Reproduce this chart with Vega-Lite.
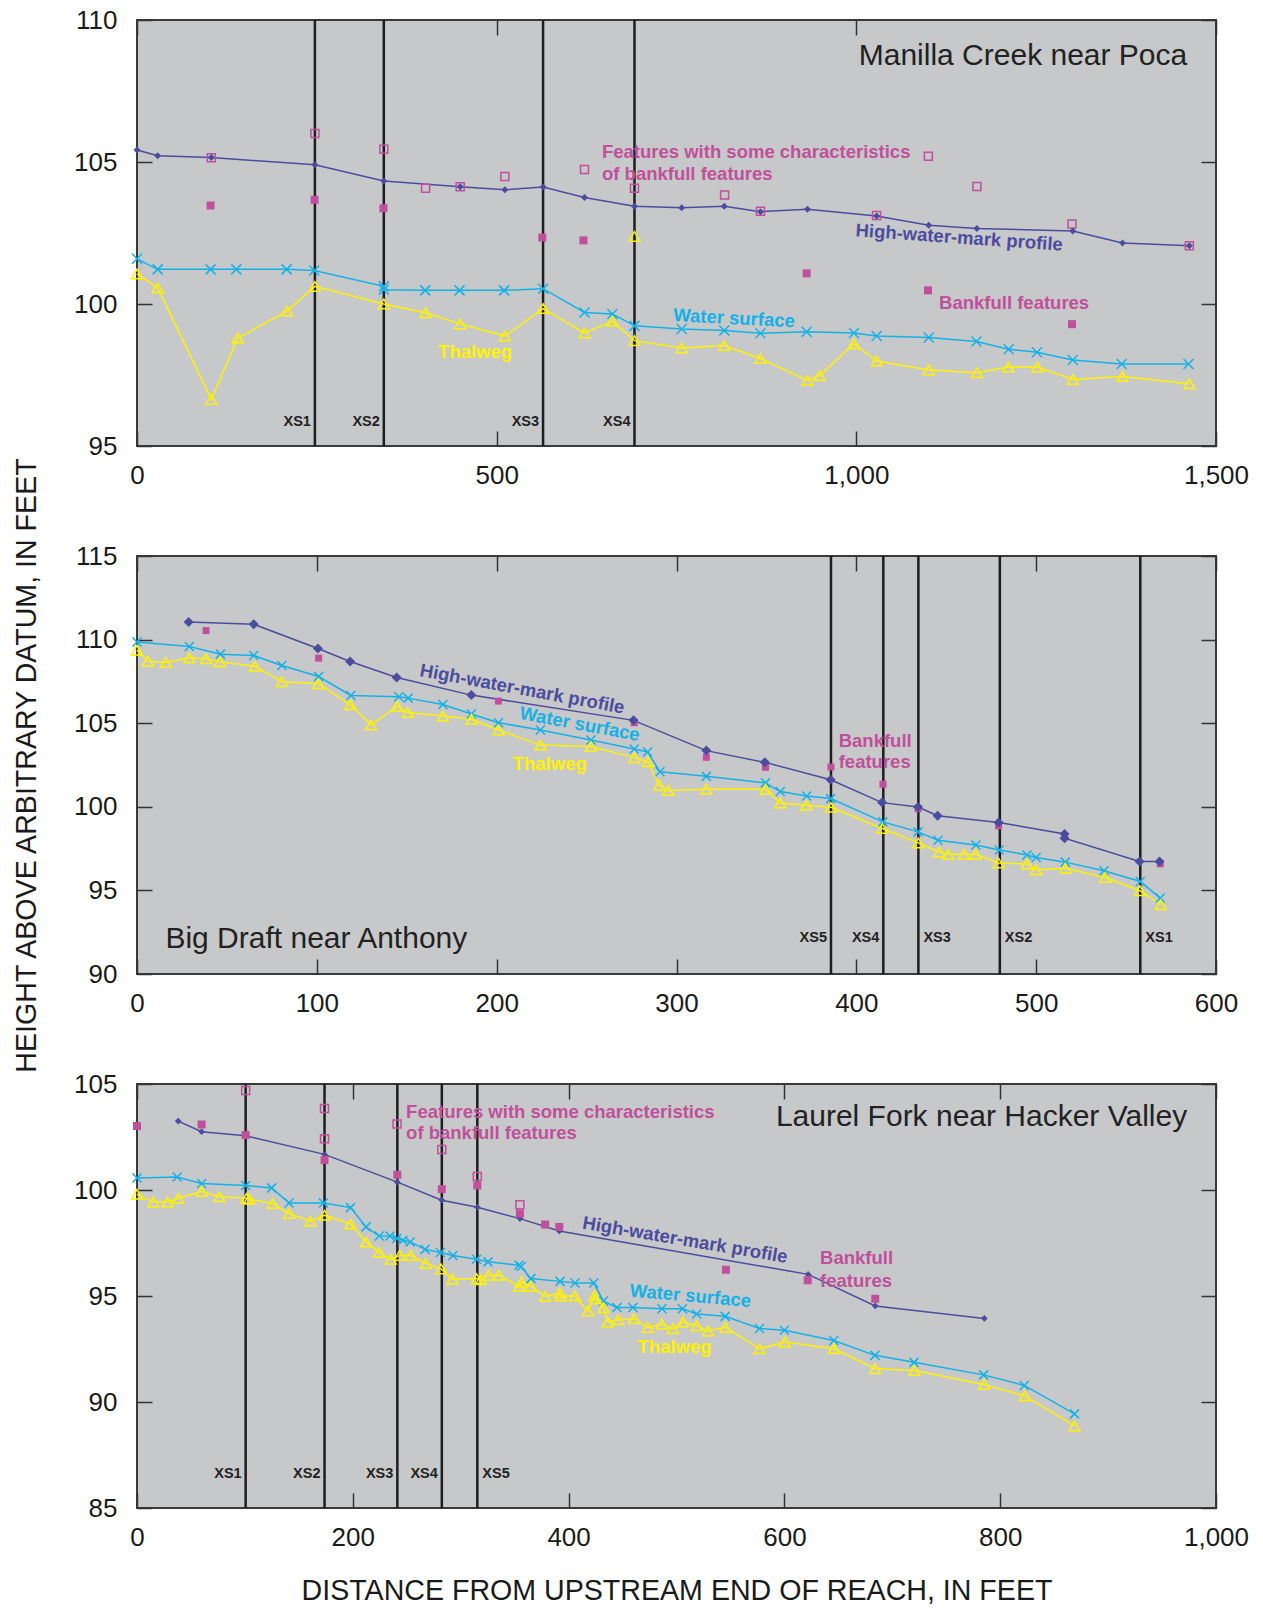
{
"$schema":"https://vega.github.io/schema/vega-lite/v6.json",
"padding":{"left":11,"top":6,"right":5,"bottom":2},
"background":"white",
"bounds":"flush",
"spacing":110,
"config":{
 "view":{"fill":"#C7C8CA","stroke":"#3A3A3A","strokeWidth":2},
 "axis":{"domain":false,"grid":false,"tickColor":"#333333","tickWidth":1.5,"tickSize":-15,"labelFont":"Liberation Sans, Arial, sans-serif","labelFontSize":26,"labelColor":"#1A1A1A","labelOverlap":false,"labelFlush":false,"titleFont":"Liberation Sans, Arial, sans-serif","titleFontSize":28.6,"titleFontWeight":"normal","titleColor":"#1A1A1A"}
},
"datasets":{
 "d1":[
{"s":"h","x":0,"y":105.42},{"s":"h","x":28.8,"y":105.22},{"s":"h","x":103.3,"y":105.16},{"s":"h","x":247.3,"y":104.9},{"s":"h","x":343.1,"y":104.33},{"s":"h","x":449.3,"y":104.13},{"s":"h","x":511.4,"y":104.02},{"s":"h","x":564.5,"y":104.12},{"s":"h","x":622.1,"y":103.75},{"s":"h","x":691.6,"y":103.44},{"s":"h","x":757.2,"y":103.39},{"s":"h","x":816.4,"y":103.44},{"s":"h","x":866.7,"y":103.25},{"s":"h","x":932,"y":103.34},{"s":"h","x":1028.2,"y":103.1},{"s":"h","x":1100.7,"y":102.77},{"s":"h","x":1167.6,"y":102.66},{"s":"h","x":1300.9,"y":102.57},{"s":"h","x":1370,"y":102.15},{"s":"h","x":1463,"y":102.05},
{"s":"w","x":0,"y":101.59},{"s":"w","x":28.8,"y":101.22},{"s":"w","x":102.3,"y":101.22},{"s":"w","x":138,"y":101.22},{"s":"w","x":208,"y":101.22},{"s":"w","x":246.3,"y":101.18},{"s":"w","x":343.1,"y":100.62},{"s":"w","x":343.1,"y":100.5},{"s":"w","x":400.7,"y":100.48},{"s":"w","x":448.4,"y":100.48},{"s":"w","x":510.4,"y":100.48},{"s":"w","x":564.5,"y":100.54},{"s":"w","x":622.1,"y":99.7},{"s":"w","x":660.8,"y":99.65},{"s":"w","x":691.6,"y":99.23},{"s":"w","x":757.2,"y":99.12},{"s":"w","x":816.4,"y":99.07},{"s":"w","x":866.7,"y":98.97},{"s":"w","x":930.9,"y":99.02},{"s":"w","x":996.7,"y":98.98},{"s":"w","x":1028.2,"y":98.87},{"s":"w","x":1100.7,"y":98.82},{"s":"w","x":1167,"y":98.68},{"s":"w","x":1211.8,"y":98.41},{"s":"w","x":1251.1,"y":98.3},{"s":"w","x":1300.9,"y":98.03},{"s":"w","x":1368.9,"y":97.89},{"s":"w","x":1461.8,"y":97.89},
{"s":"t","x":0,"y":101.06},{"s":"t","x":28.8,"y":100.57},{"s":"t","x":103.3,"y":96.64},{"s":"t","x":140,"y":98.8},{"s":"t","x":208.5,"y":99.75},{"s":"t","x":247.3,"y":100.62},{"s":"t","x":343.1,"y":100.0},{"s":"t","x":401.2,"y":99.69},{"s":"t","x":449.3,"y":99.3},{"s":"t","x":511.4,"y":98.87},{"s":"t","x":564.5,"y":99.84},{"s":"t","x":622.1,"y":98.98},{"s":"t","x":660.8,"y":99.39},{"s":"t","x":691.6,"y":98.71},{"s":"t","x":757.2,"y":98.45},{"s":"t","x":816.4,"y":98.54},{"s":"t","x":866.7,"y":98.08},{"s":"t","x":932,"y":97.31},{"s":"t","x":949.1,"y":97.48},{"s":"t","x":996.7,"y":98.6},{"s":"t","x":1028.2,"y":97.99},{"s":"t","x":1100.7,"y":97.68},{"s":"t","x":1167.6,"y":97.58},{"s":"t","x":1211.3,"y":97.78},{"s":"t","x":1251.7,"y":97.78},{"s":"t","x":1300.9,"y":97.34},{"s":"t","x":1370,"y":97.45},{"s":"t","x":1463,"y":97.19},
{"s":"tp","x":691.6,"y":102.38},
{"s":"b","x":102.3,"y":103.47},{"s":"b","x":246.8,"y":103.67},{"s":"b","x":342.6,"y":103.37},{"s":"b","x":563.5,"y":102.34},{"s":"b","x":620.6,"y":102.24},{"s":"b","x":930.9,"y":101.08},{"s":"b","x":1099.6,"y":100.48},{"s":"b","x":1299.8,"y":99.29},
{"s":"f","x":247.3,"y":106.0},{"s":"f","x":343.1,"y":105.45},{"s":"f","x":103.3,"y":105.15},{"s":"f","x":401.2,"y":104.08},{"s":"f","x":449.3,"y":104.13},{"s":"f","x":511.4,"y":104.49},{"s":"f","x":622.1,"y":104.74},{"s":"f","x":691.6,"y":104.08},{"s":"f","x":816.9,"y":103.84},{"s":"f","x":866.7,"y":103.27},{"s":"f","x":1028.2,"y":103.12},{"s":"f","x":1100.1,"y":105.2},{"s":"f","x":1167.6,"y":104.14},{"s":"f","x":1299.8,"y":102.82},{"s":"f","x":1463,"y":102.05}
 ],
 "d2":[
{"s":"h","x":28.7,"y":111.06},{"s":"h","x":64.9,"y":110.92},{"s":"h","x":100.6,"y":109.47},{"s":"h","x":118.5,"y":108.69},{"s":"h","x":144.4,"y":107.73},{"s":"h","x":185.9,"y":106.68},{"s":"h","x":276.1,"y":105.17},{"s":"h","x":316.6,"y":103.36},{"s":"h","x":349.1,"y":102.66},{"s":"h","x":385.7,"y":101.62},{"s":"h","x":414.3,"y":100.25},{"s":"h","x":434.3,"y":99.99},{"s":"h","x":445.2,"y":99.47},{"s":"h","x":479.1,"y":99.06},{"s":"h","x":515.8,"y":98.38},{"s":"h","x":515.8,"y":98.12},{"s":"h","x":557.5,"y":96.73},{"s":"h","x":568.6,"y":96.73},
{"s":"w","x":0,"y":109.86},{"s":"w","x":29.1,"y":109.59},{"s":"w","x":46.4,"y":109.13},{"s":"w","x":64.9,"y":109.05},{"s":"w","x":80.5,"y":108.45},{"s":"w","x":101,"y":107.79},{"s":"w","x":118.9,"y":106.66},{"s":"w","x":145.6,"y":106.58},{"s":"w","x":150.8,"y":106.5},{"s":"w","x":170.1,"y":106.12},{"s":"w","x":185.9,"y":105.55},{"s":"w","x":201,"y":105.03},{"s":"w","x":224.3,"y":104.59},{"s":"w","x":252.4,"y":104.0},{"s":"w","x":276.5,"y":103.46},{"s":"w","x":283.9,"y":103.28},{"s":"w","x":290.8,"y":102.1},{"s":"w","x":316.6,"y":101.82},{"s":"w","x":349.5,"y":101.43},{"s":"w","x":357.7,"y":100.91},{"s":"w","x":372.4,"y":100.65},{"s":"w","x":385.7,"y":100.49},{"s":"w","x":414.8,"y":99.1},{"s":"w","x":434.3,"y":98.5},{"s":"w","x":445.4,"y":98.0},{"s":"w","x":466.5,"y":97.72},{"s":"w","x":479.4,"y":97.42},{"s":"w","x":494.9,"y":97.12},{"s":"w","x":500,"y":96.97},{"s":"w","x":516.2,"y":96.69},{"s":"w","x":537.7,"y":96.17},{"s":"w","x":557.9,"y":95.53},{"s":"w","x":569,"y":94.54},
{"s":"t","x":0,"y":109.37},{"s":"t","x":6,"y":108.71},{"s":"t","x":16.1,"y":108.63},{"s":"t","x":29.1,"y":108.91},{"s":"t","x":38.4,"y":108.85},{"s":"t","x":46,"y":108.67},{"s":"t","x":65.5,"y":108.41},{"s":"t","x":80.5,"y":107.48},{"s":"t","x":100.8,"y":107.36},{"s":"t","x":118.7,"y":106.1},{"s":"t","x":130.1,"y":104.89},{"s":"t","x":144.8,"y":106.02},{"s":"t","x":150.6,"y":105.64},{"s":"t","x":170.1,"y":105.43},{"s":"t","x":186,"y":105.23},{"s":"t","x":201,"y":104.59},{"s":"t","x":224.3,"y":103.69},{"s":"t","x":252.4,"y":103.61},{"s":"t","x":276.5,"y":102.94},{"s":"t","x":284.1,"y":102.7},{"s":"t","x":290.4,"y":101.29},{"s":"t","x":295.4,"y":100.97},{"s":"t","x":316.6,"y":101.05},{"s":"t","x":349.5,"y":101.05},{"s":"t","x":357.7,"y":100.23},{"s":"t","x":372.1,"y":100.09},{"s":"t","x":385.9,"y":99.97},{"s":"t","x":414.5,"y":98.7},{"s":"t","x":434.5,"y":97.84},{"s":"t","x":446.1,"y":97.3},{"s":"t","x":451.2,"y":97.16},{"s":"t","x":459.8,"y":97.16},{"s":"t","x":466.3,"y":97.16},{"s":"t","x":479.1,"y":96.64},{"s":"t","x":494.9,"y":96.58},{"s":"t","x":500,"y":96.23},{"s":"t","x":516.2,"y":96.33},{"s":"t","x":538.4,"y":95.77},{"s":"t","x":557.7,"y":94.98},{"s":"t","x":569.3,"y":94.14},
{"s":"b","x":38.4,"y":110.54},{"s":"b","x":101,"y":108.89},{"s":"b","x":201,"y":106.32},{"s":"b","x":276.5,"y":105.03},{"s":"b","x":316.6,"y":102.96},{"s":"b","x":349.5,"y":102.36},{"s":"b","x":385.9,"y":102.38},{"s":"b","x":414.8,"y":101.35},{"s":"b","x":434.3,"y":99.89},{"s":"b","x":479.1,"y":98.86},{"s":"b","x":569,"y":96.59}
 ],
 "d3":[
{"s":"h","x":38.2,"y":103.25},{"s":"h","x":59.9,"y":102.75},{"s":"h","x":100.7,"y":102.56},{"s":"h","x":173.8,"y":101.68},{"s":"h","x":241.3,"y":100.37},{"s":"h","x":282.5,"y":99.52},{"s":"h","x":315.4,"y":99.19},{"s":"h","x":354.9,"y":98.65},{"s":"h","x":391.4,"y":98.07},{"s":"h","x":622,"y":96.02},{"s":"h","x":684.2,"y":94.53},{"s":"h","x":785.3,"y":93.94},
{"s":"w","x":0,"y":100.57},{"s":"w","x":37.2,"y":100.61},{"s":"w","x":59.9,"y":100.31},{"s":"w","x":100.7,"y":100.21},{"s":"w","x":124.8,"y":100.1},{"s":"w","x":140.9,"y":99.39},{"s":"w","x":172.8,"y":99.39},{"s":"w","x":197.9,"y":99.17},{"s":"w","x":212.3,"y":98.26},{"s":"w","x":224.5,"y":97.83},{"s":"w","x":234.4,"y":97.83},{"s":"w","x":240.7,"y":97.71},{"s":"w","x":246.3,"y":97.63},{"s":"w","x":253.2,"y":97.55},{"s":"w","x":267,"y":97.2},{"s":"w","x":281.2,"y":97.05},{"s":"w","x":292.7,"y":96.91},{"s":"w","x":314.7,"y":96.73},{"s":"w","x":325.3,"y":96.61},{"s":"w","x":353.9,"y":96.45},{"s":"w","x":356,"y":96.39},{"s":"w","x":365.1,"y":95.82},{"s":"w","x":392.1,"y":95.69},{"s":"w","x":405.9,"y":95.61},{"s":"w","x":423.4,"y":95.61},{"s":"w","x":432.3,"y":94.76},{"s":"w","x":444.8,"y":94.46},{"s":"w","x":459.6,"y":94.46},{"s":"w","x":486.5,"y":94.4},{"s":"w","x":505.5,"y":94.4},{"s":"w","x":518.7,"y":94.15},{"s":"w","x":545.1,"y":94.04},{"s":"w","x":576.9,"y":93.47},{"s":"w","x":600,"y":93.38},{"s":"w","x":645.8,"y":92.9},{"s":"w","x":683.9,"y":92.2},{"s":"w","x":720.1,"y":91.87},{"s":"w","x":784.6,"y":91.28},{"s":"w","x":822.3,"y":90.78},{"s":"w","x":868.9,"y":89.44},
{"s":"t","x":0,"y":99.8},{"s":"t","x":15.1,"y":99.43},{"s":"t","x":28.3,"y":99.43},{"s":"t","x":38.2,"y":99.61},{"s":"t","x":59.9,"y":99.93},{"s":"t","x":76.4,"y":99.68},{"s":"t","x":101.4,"y":99.61},{"s":"t","x":104,"y":99.57},{"s":"t","x":125.8,"y":99.36},{"s":"t","x":140.9,"y":98.89},{"s":"t","x":160.7,"y":98.53},{"s":"t","x":173.8,"y":98.81},{"s":"t","x":197.9,"y":98.4},{"s":"t","x":212.3,"y":97.55},{"s":"t","x":224.5,"y":97.05},{"s":"t","x":235.1,"y":96.73},{"s":"t","x":243.3,"y":96.91},{"s":"t","x":253.8,"y":96.91},{"s":"t","x":267.7,"y":96.53},{"s":"t","x":281.8,"y":96.28},{"s":"t","x":292.3,"y":95.79},{"s":"t","x":314.7,"y":95.82},{"s":"t","x":318.7,"y":95.77},{"s":"t","x":325.6,"y":95.98},{"s":"t","x":335.2,"y":95.98},{"s":"t","x":353.9,"y":95.46},{"s":"t","x":356.5,"y":95.66},{"s":"t","x":364.8,"y":95.46},{"s":"t","x":378.3,"y":94.98},{"s":"t","x":391.8,"y":95.14},{"s":"t","x":392.8,"y":95.0},{"s":"t","x":405.9,"y":95.0},{"s":"t","x":417.8,"y":94.29},{"s":"t","x":424,"y":95.02},{"s":"t","x":425,"y":94.86},{"s":"t","x":432.3,"y":94.45},{"s":"t","x":436.3,"y":93.77},{"s":"t","x":446.1,"y":93.88},{"s":"t","x":460.6,"y":93.93},{"s":"t","x":473.4,"y":93.52},{"s":"t","x":486.4,"y":93.67},{"s":"t","x":496.6,"y":93.45},{"s":"t","x":505.9,"y":93.77},{"s":"t","x":518.7,"y":93.6},{"s":"t","x":529.3,"y":93.35},{"s":"t","x":545.4,"y":93.52},{"s":"t","x":576.9,"y":92.51},{"s":"t","x":600.4,"y":92.83},{"s":"t","x":645.8,"y":92.51},{"s":"t","x":684.2,"y":91.57},{"s":"t","x":720.5,"y":91.49},{"s":"t","x":785,"y":90.83},{"s":"t","x":822.7,"y":90.29},{"s":"t","x":868.9,"y":88.87},
{"s":"b","x":0,"y":103.02},{"s":"b","x":59.9,"y":103.09},{"s":"b","x":100.7,"y":102.59},{"s":"b","x":173.8,"y":101.41},{"s":"b","x":241.3,"y":100.72},{"s":"b","x":282.5,"y":100.04},{"s":"b","x":315.4,"y":100.21},{"s":"b","x":354.9,"y":98.89},{"s":"b","x":378.3,"y":98.37},{"s":"b","x":391.4,"y":98.26},{"s":"b","x":545.8,"y":96.24},{"s":"b","x":621.6,"y":95.74},{"s":"b","x":684.2,"y":94.87},
{"s":"f","x":100.7,"y":104.69},{"s":"f","x":173.8,"y":103.85},{"s":"f","x":173.8,"y":102.42},{"s":"f","x":241,"y":103.11},{"s":"f","x":282.5,"y":101.91},{"s":"f","x":315.4,"y":100.64},{"s":"f","x":354.9,"y":99.3}
 ],
 "x1":[{"x":247.3,"l":"XS1","a":"r"},{"x":343.1,"l":"XS2","a":"r"},{"x":564.5,"l":"XS3","a":"r"},{"x":691.6,"l":"XS4","a":"r"}],
 "x2":[{"x":385.9,"l":"XS5","a":"r"},{"x":415,"l":"XS4","a":"r"},{"x":434.5,"l":"XS3","a":"l"},{"x":479.8,"l":"XS2","a":"l"},{"x":557.9,"l":"XS1","a":"l"}],
 "x3":[{"x":100.7,"l":"XS1","a":"r"},{"x":173.8,"l":"XS2","a":"r"},{"x":241.3,"l":"XS3","a":"r"},{"x":282.5,"l":"XS4","a":"r"},{"x":315.4,"l":"XS5","a":"l"}],
 "a1":[
  {"s":"f","text":"Features with some characteristics","x":646.4,"y":105.34,"ang":0,"al":"l"},
  {"s":"f","text":"of bankfull features","x":646.4,"y":104.58,"ang":0,"al":"l"},
  {"s":"h","text":"High-water-mark profile","x":1143,"y":102.34,"ang":4,"al":"c"},
  {"s":"b","text":"Bankfull features","x":1115,"y":100.03,"ang":0,"al":"l"},
  {"s":"w","text":"Water surface","x":830,"y":99.5,"ang":3,"al":"c"},
  {"s":"t","text":"Thalweg","x":470,"y":98.3,"ang":0,"al":"c"}
 ],
 "a2":[
  {"s":"h","text":"High-water-mark profile","x":214.2,"y":107.05,"ang":10.5,"al":"c"},
  {"s":"w","text":"Water surface","x":246.2,"y":104.95,"ang":10.5,"al":"c"},
  {"s":"t","text":"Thalweg","x":229.5,"y":102.55,"ang":0,"al":"c"},
  {"s":"b","text":"Bankfull","x":390.2,"y":103.91,"ang":0,"al":"l"},
  {"s":"b","text":"features","x":390.2,"y":102.67,"ang":0,"al":"l"}
 ],
 "a3":[
  {"s":"f","text":"Features with some characteristics","x":249.4,"y":103.69,"ang":0,"al":"l"},
  {"s":"f","text":"of bankfull features","x":249.4,"y":102.69,"ang":0,"al":"l"},
  {"s":"h","text":"High-water-mark profile","x":508,"y":97.65,"ang":9.6,"al":"c"},
  {"s":"w","text":"Water surface","x":512.8,"y":95.01,"ang":5,"al":"c"},
  {"s":"t","text":"Thalweg","x":498.2,"y":92.58,"ang":0,"al":"c"},
  {"s":"b","text":"Bankfull","x":633.1,"y":96.77,"ang":0,"al":"l"},
  {"s":"b","text":"features","x":633.1,"y":95.72,"ang":0,"al":"l"}
 ]
},
"vconcat":[
{
 "width":1079,"height":426,
 "resolve":{"axis":{"x":"independent","y":"independent"}},
 "layer":[
  {"data":{"name":"x1"},"mark":{"type":"rule","color":"#1E1E1E","strokeWidth":2.5},
   "encoding":{"x":{"field":"x","type":"quantitative","scale":{"domain":[0,1500],"nice":false,"zero":false},"axis":{"orient":"bottom","values":[0,500,1000,1500],"format":",d","labelPadding":31,"title":null}}}},
  {"data":{"name":"x1"},"transform":[{"filter":{"field":"a","equal":"r"}}],
   "mark":{"type":"text","align":"right","baseline":"middle","dx":-4,"font":"Liberation Sans, Arial, sans-serif","fontWeight":"bold","fontSize":14.5,"color":"#222222"},
   "encoding":{"x":{"field":"x","type":"quantitative","axis":null},"y":{"datum":95.84,"type":"quantitative","axis":null},"text":{"field":"l"}}},
  {"data":{"name":"d1"},"transform":[{"filter":{"field":"s","oneOf":["h","w","t"]}}],
   "mark":{"type":"line","strokeWidth":1.5},
   "encoding":{"x":{"field":"x","type":"quantitative","axis":{"orient":"top","values":[0,500,1000,1500],"labels":false,"title":null}},
    "y":{"field":"y","type":"quantitative","scale":{"domain":[95,110],"nice":false,"zero":false},"axis":{"orient":"left","values":[95,100,105,110],"labelPadding":35,"title":null}},
    "color":{"field":"s","type":"nominal","scale":{"domain":["h","w","t","b","f"],"range":["#4B4C9E","#14B1E7","#FFF200","#C0509B","#C0509B"]},"legend":null}}},
  {"data":{"name":"d1"},"transform":[{"filter":{"field":"s","equal":"f"}}],
   "mark":{"type":"point","shape":"square","filled":false,"size":64,"color":"#C0509B","strokeWidth":1.5,"opacity":1},
   "encoding":{"x":{"field":"x","type":"quantitative","axis":null},"y":{"field":"y","type":"quantitative","axis":{"orient":"right","values":[95,100,105,110],"labels":false,"title":null}}}},
  {"data":{"name":"d1"},"transform":[{"filter":{"field":"s","equal":"w"}}],
   "mark":{"type":"point","shape":"M-1,-1L1,1M-1,1L1,-1","filled":false,"size":100,"color":"#14B1E7","strokeWidth":1.5,"opacity":1},
   "encoding":{"x":{"field":"x","type":"quantitative","axis":null},"y":{"field":"y","type":"quantitative","axis":null}}},
  {"data":{"name":"d1"},"transform":[{"filter":{"field":"s","oneOf":["t","tp"]}}],
   "mark":{"type":"point","shape":"triangle-up","filled":false,"size":121,"color":"#FFF200","strokeWidth":1.5,"opacity":1},
   "encoding":{"x":{"field":"x","type":"quantitative","axis":null},"y":{"field":"y","type":"quantitative","axis":null}}},
  {"data":{"name":"d1"},"transform":[{"filter":{"field":"s","equal":"h"}}],
   "mark":{"type":"point","shape":"diamond","filled":true,"size":49,"color":"#4B4C9E","opacity":1},
   "encoding":{"x":{"field":"x","type":"quantitative","axis":null},"y":{"field":"y","type":"quantitative","axis":null}}},
  {"data":{"name":"d1"},"transform":[{"filter":{"field":"s","equal":"b"}}],
   "mark":{"type":"point","shape":"square","filled":true,"size":64,"color":"#C0509B","opacity":1},
   "encoding":{"x":{"field":"x","type":"quantitative","axis":null},"y":{"field":"y","type":"quantitative","axis":null}}},
  {"data":{"name":"a1"},"transform":[{"filter":{"field":"al","equal":"l"}}],
   "mark":{"type":"text","align":"left","baseline":"middle","font":"Liberation Sans, Arial, sans-serif","fontWeight":"bold","fontSize":18.5},
   "encoding":{"x":{"field":"x","type":"quantitative","axis":null},"y":{"field":"y","type":"quantitative","axis":null},"text":{"field":"text"},
    "color":{"field":"s","type":"nominal","scale":{"domain":["h","w","t","b","f"],"range":["#4B4C9E","#14B1E7","#FFF200","#C0509B","#C0509B"]},"legend":null},
    "angle":{"field":"ang","type":"quantitative","scale":null}}},
  {"data":{"name":"a1"},"transform":[{"filter":{"field":"al","equal":"c"}}],
   "mark":{"type":"text","align":"center","baseline":"middle","font":"Liberation Sans, Arial, sans-serif","fontWeight":"bold","fontSize":18.5},
   "encoding":{"x":{"field":"x","type":"quantitative","axis":null},"y":{"field":"y","type":"quantitative","axis":null},"text":{"field":"text"},
    "color":{"field":"s","type":"nominal","scale":{"domain":["h","w","t","b","f"],"range":["#4B4C9E","#14B1E7","#FFF200","#C0509B","#C0509B"]},"legend":null},
    "angle":{"field":"ang","type":"quantitative","scale":null}}},
  {"data":{"values":[{"text":"Manilla Creek near Poca","x":1460,"y":108.41}]},
   "mark":{"type":"text","align":"right","baseline":"alphabetic","font":"Liberation Sans, Arial, sans-serif","fontSize":30,"color":"#222222"},
   "encoding":{"x":{"field":"x","type":"quantitative","axis":null},"y":{"field":"y","type":"quantitative","axis":null},"text":{"field":"text"}}}
 ]
},
{
 "width":1079,"height":418,
 "resolve":{"axis":{"x":"independent","y":"independent"}},
 "layer":[
  {"data":{"name":"x2"},"mark":{"type":"rule","color":"#1E1E1E","strokeWidth":2.5},
   "encoding":{"x":{"field":"x","type":"quantitative","scale":{"domain":[0,600],"nice":false,"zero":false},"axis":{"orient":"bottom","values":[0,100,200,300,400,500,600],"format":",d","labelPadding":31,"title":null}}}},
  {"data":{"name":"x2"},"transform":[{"filter":{"field":"a","equal":"r"}}],
   "mark":{"type":"text","align":"right","baseline":"middle","dx":-4,"font":"Liberation Sans, Arial, sans-serif","fontWeight":"bold","fontSize":14.5,"color":"#222222"},
   "encoding":{"x":{"field":"x","type":"quantitative","axis":null},"y":{"datum":92.14,"type":"quantitative","axis":null},"text":{"field":"l"}}},
  {"data":{"name":"x2"},"transform":[{"filter":{"field":"a","equal":"l"}}],
   "mark":{"type":"text","align":"left","baseline":"middle","dx":5,"font":"Liberation Sans, Arial, sans-serif","fontWeight":"bold","fontSize":14.5,"color":"#222222"},
   "encoding":{"x":{"field":"x","type":"quantitative","axis":null},"y":{"datum":92.14,"type":"quantitative","axis":null},"text":{"field":"l"}}},
  {"data":{"name":"d2"},"transform":[{"filter":{"field":"s","oneOf":["h","w","t"]}}],
   "mark":{"type":"line","strokeWidth":1.5},
   "encoding":{"x":{"field":"x","type":"quantitative","axis":{"orient":"top","values":[0,100,200,300,400,500,600],"labels":false,"title":null}},
    "y":{"field":"y","type":"quantitative","scale":{"domain":[90,115],"nice":false,"zero":false},"axis":{"orient":"left","values":[90,95,100,105,110,115],"labelPadding":35,"title":"HEIGHT ABOVE ARBITRARY DATUM, IN FEET","titlePadding":32}},
    "color":{"field":"s","type":"nominal","scale":{"domain":["h","w","t","b","f"],"range":["#4B4C9E","#14B1E7","#FFF200","#C0509B","#C0509B"]},"legend":null}}},
  {"data":{"name":"d2"},"transform":[{"filter":{"field":"s","equal":"w"}}],
   "mark":{"type":"point","shape":"M-1,-1L1,1M-1,1L1,-1","filled":false,"size":81,"color":"#14B1E7","strokeWidth":1.5,"opacity":1},
   "encoding":{"x":{"field":"x","type":"quantitative","axis":null},"y":{"field":"y","type":"quantitative","axis":{"orient":"right","values":[90,95,100,105,110,115],"labels":false,"title":null}}}},
  {"data":{"name":"d2"},"transform":[{"filter":{"field":"s","equal":"t"}}],
   "mark":{"type":"point","shape":"triangle-up","filled":false,"size":121,"color":"#FFF200","strokeWidth":1.5,"opacity":1},
   "encoding":{"x":{"field":"x","type":"quantitative","axis":null},"y":{"field":"y","type":"quantitative","axis":null}}},
  {"data":{"name":"d2"},"transform":[{"filter":{"field":"s","equal":"b"}}],
   "mark":{"type":"point","shape":"square","filled":true,"size":49,"color":"#C0509B","opacity":1},
   "encoding":{"x":{"field":"x","type":"quantitative","axis":null},"y":{"field":"y","type":"quantitative","axis":null}}},
  {"data":{"name":"d2"},"transform":[{"filter":{"field":"s","equal":"h"}}],
   "mark":{"type":"point","shape":"diamond","filled":true,"size":100,"color":"#4B4C9E","opacity":1},
   "encoding":{"x":{"field":"x","type":"quantitative","axis":null},"y":{"field":"y","type":"quantitative","axis":null}}},
  {"data":{"name":"a2"},"transform":[{"filter":{"field":"al","equal":"l"}}],
   "mark":{"type":"text","align":"left","baseline":"middle","font":"Liberation Sans, Arial, sans-serif","fontWeight":"bold","fontSize":18.5},
   "encoding":{"x":{"field":"x","type":"quantitative","axis":null},"y":{"field":"y","type":"quantitative","axis":null},"text":{"field":"text"},
    "color":{"field":"s","type":"nominal","scale":{"domain":["h","w","t","b","f"],"range":["#4B4C9E","#14B1E7","#FFF200","#C0509B","#C0509B"]},"legend":null},
    "angle":{"field":"ang","type":"quantitative","scale":null}}},
  {"data":{"name":"a2"},"transform":[{"filter":{"field":"al","equal":"c"}}],
   "mark":{"type":"text","align":"center","baseline":"middle","font":"Liberation Sans, Arial, sans-serif","fontWeight":"bold","fontSize":18.5},
   "encoding":{"x":{"field":"x","type":"quantitative","axis":null},"y":{"field":"y","type":"quantitative","axis":null},"text":{"field":"text"},
    "color":{"field":"s","type":"nominal","scale":{"domain":["h","w","t","b","f"],"range":["#4B4C9E","#14B1E7","#FFF200","#C0509B","#C0509B"]},"legend":null},
    "angle":{"field":"ang","type":"quantitative","scale":null}}},
  {"data":{"values":[{"text":"Big Draft near Anthony","x":15.8,"y":91.54}]},
   "mark":{"type":"text","align":"left","baseline":"alphabetic","font":"Liberation Sans, Arial, sans-serif","fontSize":30,"color":"#222222"},
   "encoding":{"x":{"field":"x","type":"quantitative","axis":null},"y":{"field":"y","type":"quantitative","axis":null},"text":{"field":"text"}}}
 ]
},
{
 "width":1079,"height":424,
 "resolve":{"axis":{"x":"independent","y":"independent"}},
 "layer":[
  {"data":{"name":"x3"},"mark":{"type":"rule","color":"#1E1E1E","strokeWidth":2.5},
   "encoding":{"x":{"field":"x","type":"quantitative","scale":{"domain":[0,1000],"nice":false,"zero":false},"axis":{"orient":"bottom","values":[0,200,400,600,800,1000],"format":",d","labelPadding":31,"title":"DISTANCE FROM UPSTREAM END OF REACH, IN FEET","titlePadding":26}}}},
  {"data":{"name":"x3"},"transform":[{"filter":{"field":"a","equal":"r"}}],
   "mark":{"type":"text","align":"right","baseline":"middle","dx":-4,"font":"Liberation Sans, Arial, sans-serif","fontWeight":"bold","fontSize":14.5,"color":"#222222"},
   "encoding":{"x":{"field":"x","type":"quantitative","axis":null},"y":{"datum":86.6,"type":"quantitative","axis":null},"text":{"field":"l"}}},
  {"data":{"name":"x3"},"transform":[{"filter":{"field":"a","equal":"l"}}],
   "mark":{"type":"text","align":"left","baseline":"middle","dx":5,"font":"Liberation Sans, Arial, sans-serif","fontWeight":"bold","fontSize":14.5,"color":"#222222"},
   "encoding":{"x":{"field":"x","type":"quantitative","axis":null},"y":{"datum":86.6,"type":"quantitative","axis":null},"text":{"field":"l"}}},
  {"data":{"name":"d3"},"transform":[{"filter":{"field":"s","oneOf":["h","w","t"]}}],
   "mark":{"type":"line","strokeWidth":1.5},
   "encoding":{"x":{"field":"x","type":"quantitative","axis":{"orient":"top","values":[0,200,400,600,800,1000],"labels":false,"title":null}},
    "y":{"field":"y","type":"quantitative","scale":{"domain":[85,105],"nice":false,"zero":false},"axis":{"orient":"left","values":[85,90,95,100,105],"labelPadding":35,"title":null}},
    "color":{"field":"s","type":"nominal","scale":{"domain":["h","w","t","b","f"],"range":["#4B4C9E","#14B1E7","#FFF200","#C0509B","#C0509B"]},"legend":null}}},
  {"data":{"name":"d3"},"transform":[{"filter":{"field":"s","equal":"f"}}],
   "mark":{"type":"point","shape":"square","filled":false,"size":64,"color":"#C0509B","strokeWidth":1.5,"opacity":1},
   "encoding":{"x":{"field":"x","type":"quantitative","axis":null},"y":{"field":"y","type":"quantitative","axis":{"orient":"right","values":[85,90,95,100,105],"labels":false,"title":null}}}},
  {"data":{"name":"d3"},"transform":[{"filter":{"field":"s","equal":"w"}}],
   "mark":{"type":"point","shape":"M-1,-1L1,1M-1,1L1,-1","filled":false,"size":81,"color":"#14B1E7","strokeWidth":1.5,"opacity":1},
   "encoding":{"x":{"field":"x","type":"quantitative","axis":null},"y":{"field":"y","type":"quantitative","axis":null}}},
  {"data":{"name":"d3"},"transform":[{"filter":{"field":"s","equal":"t"}}],
   "mark":{"type":"point","shape":"triangle-up","filled":false,"size":121,"color":"#FFF200","strokeWidth":1.5,"opacity":1},
   "encoding":{"x":{"field":"x","type":"quantitative","axis":null},"y":{"field":"y","type":"quantitative","axis":null}}},
  {"data":{"name":"d3"},"transform":[{"filter":{"field":"s","equal":"h"}}],
   "mark":{"type":"point","shape":"diamond","filled":true,"size":45,"color":"#4B4C9E","opacity":1},
   "encoding":{"x":{"field":"x","type":"quantitative","axis":null},"y":{"field":"y","type":"quantitative","axis":null}}},
  {"data":{"name":"d3"},"transform":[{"filter":{"field":"s","equal":"b"}}],
   "mark":{"type":"point","shape":"square","filled":true,"size":64,"color":"#C0509B","opacity":1},
   "encoding":{"x":{"field":"x","type":"quantitative","axis":null},"y":{"field":"y","type":"quantitative","axis":null}}},
  {"data":{"name":"a3"},"transform":[{"filter":{"field":"al","equal":"l"}}],
   "mark":{"type":"text","align":"left","baseline":"middle","font":"Liberation Sans, Arial, sans-serif","fontWeight":"bold","fontSize":18.5},
   "encoding":{"x":{"field":"x","type":"quantitative","axis":null},"y":{"field":"y","type":"quantitative","axis":null},"text":{"field":"text"},
    "color":{"field":"s","type":"nominal","scale":{"domain":["h","w","t","b","f"],"range":["#4B4C9E","#14B1E7","#FFF200","#C0509B","#C0509B"]},"legend":null},
    "angle":{"field":"ang","type":"quantitative","scale":null}}},
  {"data":{"name":"a3"},"transform":[{"filter":{"field":"al","equal":"c"}}],
   "mark":{"type":"text","align":"center","baseline":"middle","font":"Liberation Sans, Arial, sans-serif","fontWeight":"bold","fontSize":18.5},
   "encoding":{"x":{"field":"x","type":"quantitative","axis":null},"y":{"field":"y","type":"quantitative","axis":null},"text":{"field":"text"},
    "color":{"field":"s","type":"nominal","scale":{"domain":["h","w","t","b","f"],"range":["#4B4C9E","#14B1E7","#FFF200","#C0509B","#C0509B"]},"legend":null},
    "angle":{"field":"ang","type":"quantitative","scale":null}}},
  {"data":{"values":[{"text":"Laurel Fork near Hacker Valley","x":973.3,"y":103.03}]},
   "mark":{"type":"text","align":"right","baseline":"alphabetic","font":"Liberation Sans, Arial, sans-serif","fontSize":30,"color":"#222222"},
   "encoding":{"x":{"field":"x","type":"quantitative","axis":null},"y":{"field":"y","type":"quantitative","axis":null},"text":{"field":"text"}}}
 ]
}
]
}
